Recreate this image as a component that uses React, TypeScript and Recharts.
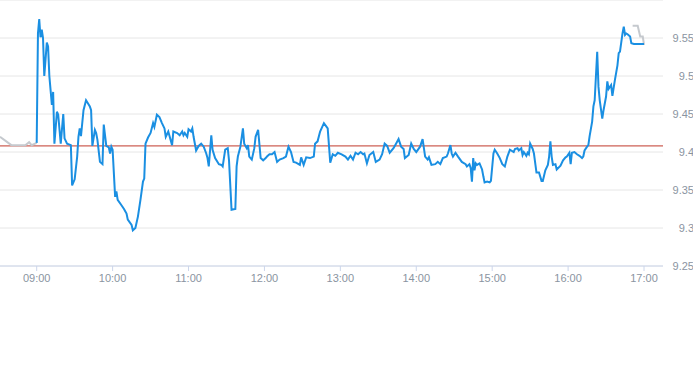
import React from "react";
import { LineChart, Line, XAxis, YAxis, CartesianGrid, ReferenceLine } from "recharts";

// time axis: minutes after 09:00
const xTickLabels = ["09:00", "10:00", "11:00", "12:00", "13:00", "14:00", "15:00", "16:00", "17:00"];
const yTickValues = [9.25, 9.3, 9.35, 9.4, 9.45, 9.5, 9.55];
const prevClose = 9.408;

const preTimes = [-29, -20, -9, -6, -4, 0];
const preValues = [9.42, 9.409, 9.409, 9.413, 9.409, 9.412];

const mainTimes = [
  0, 1, 2, 3, 4, 5, 6, 8, 9, 10, 12, 13, 14, 16, 17, 19, 21, 22, 24, 27,
  28, 30, 32, 33, 34, 35, 37, 39, 42, 43, 44, 46, 47, 48, 50, 52, 53, 55, 57, 58,
  59, 60, 62, 63, 64, 67, 69, 71, 72, 75, 76, 78, 80, 82, 84, 85, 86, 88, 90, 92,
  93, 95, 97, 99, 101, 102, 104, 107, 108, 111, 113, 115, 116, 117, 119, 120, 122, 123, 124, 126,
  128, 130, 132, 134, 135, 136, 138, 139, 141, 144, 146, 147, 149, 151, 152, 154, 157, 158, 159, 161,
  163, 164, 166, 167, 168, 170, 172, 173, 175, 177, 179, 181, 182, 184, 186, 188, 190, 192, 195, 197,
  199, 201, 203, 205, 208, 209, 211, 213, 216, 219, 220, 222, 224, 227, 230, 232, 234, 236, 238, 241,
  244, 246, 248, 250, 252, 254, 256, 258, 259, 261, 263, 266, 268, 271, 273, 275, 277, 279, 282, 284,
  286, 288, 290, 291, 294, 296, 298, 300, 303, 305, 307, 309, 310, 312, 315, 317, 319, 321, 324, 325,
  327, 328, 329, 331, 333, 336, 339, 340, 342, 343, 344, 345, 346, 347, 348, 350, 352, 353, 354, 356,
  358, 359, 361, 362, 364, 366, 368, 370, 372, 374, 377, 378, 380, 381, 383, 384, 385, 387, 388, 389,
  390, 392, 393, 395, 397, 399, 400, 402, 404, 405, 406, 407, 408, 410, 411, 414, 416, 418, 419, 421,
  422, 423, 425, 427, 429, 431, 432, 433, 435, 436, 437, 439, 440, 441, 443, 444, 445, 447, 448, 450,
  451, 452, 454, 455, 457, 459, 460, 461, 463, 464, 465, 466, 467, 469, 470, 472, 476, 480,
];
const mainValues = [
  9.412, 9.556, 9.575, 9.551, 9.561, 9.55, 9.5, 9.544, 9.539, 9.5, 9.462, 9.479, 9.411, 9.453, 9.449, 9.411, 9.45, 9.418, 9.411, 9.409,
  9.356, 9.364, 9.394, 9.42, 9.431, 9.421, 9.455, 9.468, 9.46, 9.455, 9.408, 9.429, 9.425, 9.416, 9.387, 9.384, 9.436, 9.408, 9.406, 9.398,
  9.407, 9.403, 9.341, 9.348, 9.337, 9.33, 9.325, 9.319, 9.311, 9.304, 9.297, 9.3, 9.315, 9.337, 9.361, 9.365, 9.411, 9.419, 9.425, 9.438,
  9.433, 9.449, 9.446, 9.438, 9.431, 9.42, 9.427, 9.409, 9.427, 9.425, 9.422, 9.427, 9.422, 9.425, 9.42, 9.43, 9.427, 9.431, 9.42, 9.402,
  9.408, 9.411, 9.407, 9.398, 9.392, 9.381, 9.422, 9.403, 9.392, 9.384, 9.383, 9.381, 9.403, 9.405, 9.389, 9.324, 9.325, 9.381, 9.394, 9.407,
  9.431, 9.411, 9.405, 9.409, 9.394, 9.39, 9.405, 9.42, 9.429, 9.392, 9.389, 9.392, 9.394, 9.397, 9.397, 9.4, 9.387, 9.39, 9.392, 9.394,
  9.407, 9.4, 9.387, 9.386, 9.383, 9.393, 9.383, 9.393, 9.392, 9.394, 9.411, 9.414, 9.427, 9.438, 9.431, 9.386, 9.397, 9.395, 9.399, 9.397,
  9.394, 9.39, 9.395, 9.39, 9.399, 9.397, 9.4, 9.397, 9.398, 9.385, 9.396, 9.4, 9.387, 9.39, 9.397, 9.411, 9.408, 9.399, 9.405, 9.411,
  9.417, 9.407, 9.404, 9.392, 9.396, 9.411, 9.404, 9.4, 9.407, 9.417, 9.394, 9.39, 9.393, 9.383, 9.384, 9.387, 9.384, 9.392, 9.394, 9.398,
  9.409, 9.398, 9.394, 9.399, 9.394, 9.387, 9.384, 9.381, 9.384, 9.379, 9.361, 9.392, 9.376, 9.385, 9.383, 9.385, 9.377, 9.368, 9.36, 9.361,
  9.36, 9.362, 9.398, 9.403, 9.398, 9.392, 9.384, 9.381, 9.394, 9.403, 9.4, 9.404, 9.405, 9.402, 9.405, 9.396, 9.4, 9.395, 9.399, 9.397,
  9.411, 9.404, 9.398, 9.373, 9.373, 9.362, 9.362, 9.376, 9.383, 9.394, 9.414, 9.394, 9.383, 9.384, 9.377, 9.382, 9.389, 9.393, 9.394, 9.399,
  9.384, 9.399, 9.4, 9.397, 9.395, 9.392, 9.394, 9.402, 9.407, 9.409, 9.421, 9.44, 9.46, 9.468, 9.532, 9.486, 9.468, 9.444, 9.455, 9.473,
  9.493, 9.483, 9.488, 9.474, 9.495, 9.514, 9.53, 9.532, 9.556, 9.565, 9.554, 9.556, 9.555, 9.552, 9.543, 9.542, 9.542, 9.542,
];

const postTimes = [471, 475, 477, 479, 480];
const postValues = [9.566, 9.566, 9.552, 9.552, 9.541];

type Row = { t: number; pre?: number | null; main?: number | null; post?: number | null };

function buildRows(): Row[] {
  const map = new Map<number, Row>();
  const add = (ts: number[], vs: number[], key: "pre" | "main" | "post") => {
    ts.forEach((t, i) => {
      const r = map.get(t) || { t, pre: null, main: null, post: null };
      r[key] = vs[i];
      map.set(t, r);
    });
  };
  add(preTimes, preValues, "pre");
  add(mainTimes, mainValues, "main");
  add(postTimes, postValues, "post");
  return Array.from(map.values()).sort((a, b) => a.t - b.t);
}
const rows = buildRows();

const xTickValues = xTickLabels.map((_, i) => i * 60);

const labelColor = "#8a94a1";
const fontFamily = "'Liberation Sans', Arial, sans-serif";

const YTick = (props: any) => {
  const { x, y, payload } = props;
  return (
    <text x={x} y={y} textAnchor="end" dominantBaseline="central" fill={labelColor} fontSize={11} fontFamily={fontFamily}>
      {String(Number(payload.value.toFixed(2)))}
    </text>
  );
};

export default function App() {
  return (
    <div style={{ position: "absolute", left: 0, top: 0, background: "#fff" }}>
      <LineChart width={693} height={365} data={rows} margin={{ top: 0, right: 0, bottom: 0, left: 0 }}>
        <CartesianGrid vertical={false} stroke="#e6e6e6" />
        <XAxis
          dataKey="t"
          type="number"
          domain={[-29, 495]}
          allowDataOverflow
          ticks={xTickValues}
          tickFormatter={(v: number) => xTickLabels[Math.round(v / 60)]}
          height={99}
          tickSize={5}
          tickMargin={3}
          axisLine={{ stroke: "#ccd6eb" }}
          tickLine={{ stroke: "#ccd6eb" }}
          tick={{ fill: labelColor, fontSize: 11, fontFamily }}
          interval={0}
        />
        <YAxis
          orientation="right"
          width={30}
          domain={[9.25, 9.6]}
          allowDataOverflow
          ticks={yTickValues}
          axisLine={false}
          tickLine={false}
          tickSize={6}
          tickMargin={25}
          tick={<YTick />}
          interval={0}
        />
        <ReferenceLine y={prevClose} stroke="#c0392b" strokeWidth={1} />
        <Line dataKey="pre" type="linear" stroke="#c5c9ce" strokeWidth={2} dot={false} activeDot={false} connectNulls isAnimationActive={false} />
        <Line dataKey="post" type="linear" stroke="#c5c9ce" strokeWidth={2} dot={false} activeDot={false} connectNulls isAnimationActive={false} />
        <Line dataKey="main" type="linear" stroke="#1a8fe2" strokeWidth={2} dot={false} activeDot={false} connectNulls isAnimationActive={false} />
      </LineChart>
    </div>
  );
}
